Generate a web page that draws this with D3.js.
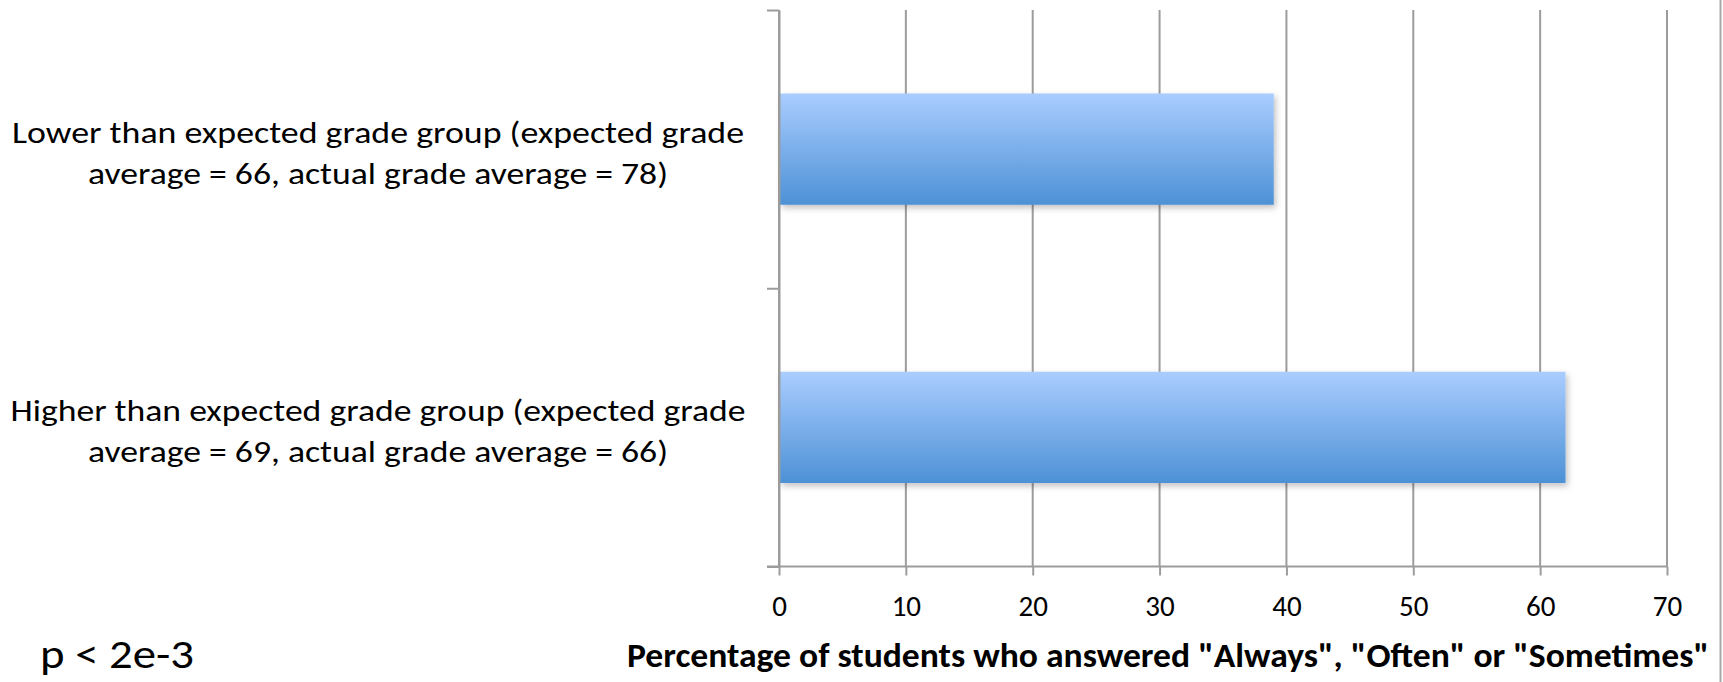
<!DOCTYPE html>
<html>
<head>
<meta charset="utf-8">
<script src="https://cdn.jsdelivr.net/npm/d3@7"></script>
<style>
  html, body { margin: 0; padding: 0; background: #fff; }
  svg { display: block; }
  text { font-family: Carlito, Calibri, Lato, "Open Sans", sans-serif; fill: #000; }
</style>
</head>
<body>
<div id="chart"></div>
<script>
// Data
const categories = [
  ['Lower than expected grade group (expected grade', 'average = 66, actual grade average = 78)'],
  ['Higher than expected grade group (expected grade', 'average = 69, actual grade average = 66)']
];
const values = [39, 62];
const xTicks = [0, 10, 20, 30, 40, 50, 60, 70];
const xTitle = 'Percentage of students who answered "Always", "Often" or "Sometimes"';
const note = 'p < 2e-3';

// Canvas and plot area
const width = 1723;
const height = 682;
const margin = { top: 10, right: 56, bottom: 115.5, left: 779 };
const plotW = width - margin.left - margin.right;
const plotH = height - margin.top - margin.bottom;

const svg = d3.select('#chart')
  .append('svg')
  .attr('width', width)
  .attr('height', height);

// Bar gradient and soft shadow
const defs = svg.append('defs');
const grad = defs.append('linearGradient')
  .attr('id', 'barFill')
  .attr('x1', 0).attr('y1', 0).attr('x2', 0).attr('y2', 1);
grad.append('stop').attr('offset', '0%').attr('stop-color', '#aacdff');
grad.append('stop').attr('offset', '100%').attr('stop-color', '#4d91d6');

const shadow = defs.append('filter')
  .attr('id', 'barShadow')
  .attr('x', '-5%').attr('y', '-20%').attr('width', '110%').attr('height', '140%');
shadow.append('feDropShadow')
  .attr('dx', 2).attr('dy', 3)
  .attr('stdDeviation', 3)
  .attr('flood-color', '#000')
  .attr('flood-opacity', 0.25);

const g = svg.append('g')
  .attr('transform', `translate(${margin.left}, ${margin.top})`);

// Scales
const x = d3.scaleLinear()
  .domain([0, 70])
  .range([0, plotW]);

const y = d3.scaleBand()
  .domain(d3.range(categories.length))
  .range([0, plotH])
  .paddingInner(0.6)
  .paddingOuter(0.3);

// Category boundaries for the y-axis ticks
const yEdge = d3.scaleLinear()
  .domain([0, categories.length])
  .range([0, plotH]);

// Vertical gridlines
g.append('g')
  .selectAll('line')
  .data(xTicks)
  .enter()
  .append('line')
  .attr('x1', d => x(d))
  .attr('x2', d => x(d))
  .attr('y1', 0)
  .attr('y2', plotH)
  .attr('stroke', '#9c9c9c')
  .attr('stroke-width', 2);

// Bars
g.append('g')
  .selectAll('rect')
  .data(values)
  .enter()
  .append('rect')
  .attr('x', x(0) + 1)
  .attr('y', (d, i) => y(i))
  .attr('width', d => x(d) - x(0) - 1)
  .attr('height', y.bandwidth())
  .attr('fill', 'url(#barFill)')
  .attr('filter', 'url(#barShadow)');

// X axis
const xAxis = g.append('g')
  .attr('transform', `translate(0, ${plotH})`)
  .call(d3.axisBottom(x).tickValues(xTicks).tickSize(9).tickSizeOuter(0));
xAxis.select('.domain')
  .attr('d', `M${-12},0H${x(70)}`)
  .attr('stroke', '#9c9c9c')
  .attr('stroke-width', 2);
xAxis.selectAll('.tick line')
  .attr('stroke', '#9c9c9c')
  .attr('stroke-width', 2);
xAxis.selectAll('.tick text')
  .attr('y', 49)
  .attr('dy', 0)
  .attr('font-size', 29)
  .attr('font-family', 'Carlito, Calibri, Lato, "Open Sans", sans-serif')
  .attr('fill', '#000');

// Y axis (ticks at category boundaries)
const yAxis = g.append('g')
  .call(d3.axisLeft(yEdge).tickValues(d3.range(categories.length + 1)).tickFormat('').tickSize(12).tickSizeOuter(0));
yAxis.select('.domain')
  .attr('stroke', '#9c9c9c')
  .attr('stroke-width', 2);
yAxis.selectAll('.tick line')
  .attr('stroke', '#9c9c9c')
  .attr('stroke-width', 2);

// Category labels (two lines each, centred)
const labelX = 378;
const labelWidths = [[732, 580], [735, 580]];
const labels = svg.append('g');
categories.forEach((lines, i) => {
  const cy = margin.top + y(i) + y.bandwidth() / 2;
  lines.forEach((line, j) => {
    labels.append('text')
      .attr('x', labelX)
      .attr('y', cy - 6 + j * 41)
      .attr('text-anchor', 'middle')
      .attr('font-size', 30)
      .attr('textLength', labelWidths[i][j])
      .attr('lengthAdjust', 'spacingAndGlyphs')
      .text(line);
  });
});

// Axis title
svg.append('text')
  .attr('x', 627)
  .attr('y', 667)
  .attr('font-size', 35)
  .attr('font-weight', 'bold')
  .attr('textLength', 1082)
  .attr('lengthAdjust', 'spacingAndGlyphs')
  .text(xTitle);

// Significance note
svg.append('text')
  .attr('x', 40)
  .attr('y', 668)
  .attr('font-size', 41)
  .attr('textLength', 154)
  .attr('lengthAdjust', 'spacingAndGlyphs')
  .text(note);

// Right frame edge
svg.append('line')
  .attr('x1', 1720.5).attr('x2', 1720.5)
  .attr('y1', 0).attr('y2', height)
  .attr('stroke', '#a8a8a8')
  .attr('stroke-width', 2);
</script>
</body>
</html>
